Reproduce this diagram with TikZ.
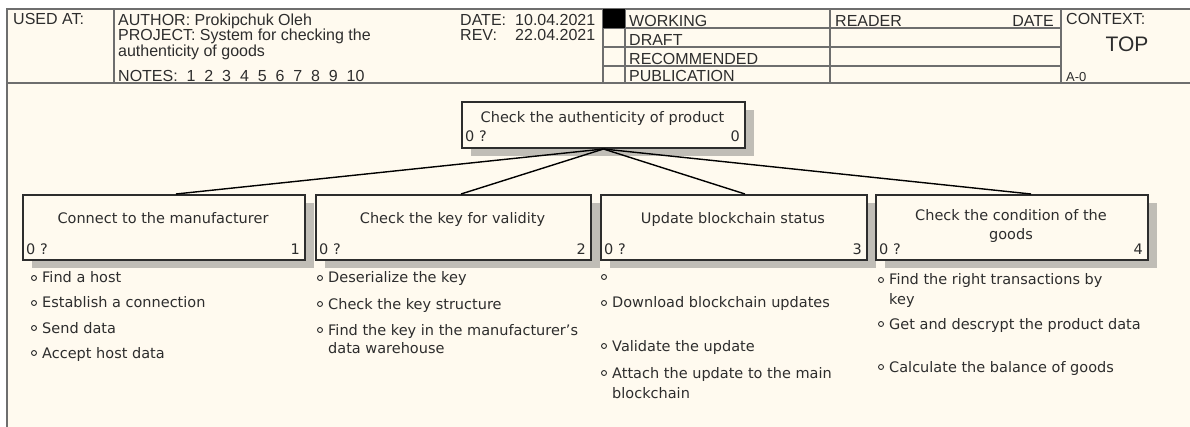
\documentclass[tikz,border=0pt]{standalone}
\usepackage{fontspec}
\setmainfont{DejaVu Sans}
\newfontfamily\hdrfont{Liberation Sans}
\usetikzlibrary{shadows}
\definecolor{paper}{RGB}{255,250,239}
\definecolor{rule}{RGB}{110,110,110}
\definecolor{shade}{RGB}{192,189,182}
\definecolor{ink}{RGB}{45,45,45}

\begin{document}
\begin{tikzpicture}[x=1pt,y=-1pt,
  hdr/.style={font=\hdrfont\fontsize{16}{17}\selectfont,inner sep=0pt,anchor=base west,text=ink},
  btxt/.style={font=\fontsize{14.5}{17}\selectfont,inner sep=0pt,text=ink},
  item/.style={btxt,anchor=base west},
  actbox/.style={draw=ink,line width=2pt,fill=paper,anchor=north west,
    drop shadow={shadow xshift=9pt,shadow yshift=-8pt,fill=shade,opacity=1}},
  dot/.style={draw=ink,line width=0.9pt,circle,inner sep=0pt,minimum size=5pt},
  frm/.style={draw=rule,line width=1.5pt}]
\useasboundingbox (0,0) rectangle (1190,427);
\fill[paper] (7,9) rectangle (1190,427);
% header
\draw[frm] (1190,9) -- (7,9) -- (7,427);
\draw[frm] (7,83) -- (1190,83);
\draw[frm] (114,9) -- (114,83) (603,9) -- (603,83) (625,9) -- (625,83)
  (830,9) -- (830,83) (1061,9) -- (1061,83);
\foreach \y in {28,47,66} \draw[frm] (603,\y) -- (1061,\y);
\fill[black] (603,9) rectangle (625,28);
\node[hdr] (usedat) at (13,25) {USED AT:};
\node[hdr] (author) at (118,26) {AUTHOR: Prokipchuk Oleh};
\node[hdr] (project) at (118,41) {PROJECT: System for checking the};
\node[hdr] (project2) at (118,57) {authenticity of goods};
\node[hdr] (notes) at (118,82) {NOTES:~~1~~2~~3~~4~~5~~6~~7~~8~~9~~10};
\node[hdr] (date) at (460,26) {DATE:};
\node[hdr] (dateval) at (515,26) {10.04.2021};
\node[hdr] (rev) at (460,41) {REV:};
\node[hdr] (revval) at (515,41) {22.04.2021};
\node[hdr] (working) at (629,27) {WORKING};
\node[hdr] (draft) at (629,46) {DRAFT};
\node[hdr] (recom) at (629,65) {RECOMMENDED};
\node[hdr] (public) at (629,82) {PUBLICATION};
\node[hdr] (reader) at (835,27) {READER};
\node[hdr,anchor=base east] (rdate) at (1054,27) {DATE};
\node[hdr] (context) at (1066,25) {CONTEXT:};
\node[hdr,anchor=base,font=\hdrfont\fontsize{21}{22}\selectfont] (ctop) at (1127,52) {TOP};
\node[hdr,font=\hdrfont\fontsize{13}{14}\selectfont] (nodenum) at (1066,82) {A-0};
% parent box
\node[actbox,minimum width=283pt,minimum height=46pt] (top) at (461,101) {};
\node[btxt,anchor=base] (toptitle) at (602.5,123) {Check the authenticity of product};
\node[btxt,anchor=base west] (topcost) at (465,142) {0 ?};
\node[btxt,anchor=base east] (topnum) at (740,142) {0};
% child boxes
\foreach \n/\l/\r in {1/22/304,2/315/590,3/600/866,4/875/1147} {
  \node[actbox,minimum width={\r-\l},minimum height=65pt] (box\n) at (\l,194) {};
  \node[btxt,anchor=base west] (cost\n) at (\l+4,255) {0 ?};
  \node[btxt,anchor=base east] (num\n) at (\r-4,255) {\n};
}
\node[btxt,anchor=base] (title1) at (163,224) {Connect to the manufacturer};
\node[btxt,anchor=base] (title2) at (452.5,224) {Check the key for validity};
\node[btxt,anchor=base] (title3) at (733,224) {Update blockchain status};
\node[btxt,anchor=base] (title4) at (1011,221) {Check the condition of the};
\node[btxt,anchor=base] (title4b) at (1011,240) {goods};
\foreach \n/\dx in {1/12,2/7.5,3/11,4/19}
  \draw[line width=1.4pt] (top.south) -- ([xshift=\dx pt]box\n.north);
% activity lists
\foreach \x/\y/\t [count=\i] in {42/283/Find a host,42/308/Establish a connection,
    42/333/Send data,42/358/Accept host data,
    328/283/Deserialize the key,328/309/Check the key structure,
    328/335/Find the key in the manufacturer's,
    612/308/Download blockchain updates,612/351/Validate the update,
    612/378/Attach the update to the main,
    889/285/Find the right transactions by,889/329/Get and descrypt the product data,
    889/372/Calculate the balance of goods} {
  \node[item] (item\i) at (\x,\y) {\t};
  \node[dot] (dot\i) at (\x-8,\y-5) {};
}
\node[dot] (dot0) at (604,277) {};
\node[item] (cont2) at (328,353) {data warehouse};
\node[item] (cont3) at (612,398) {blockchain};
\node[item] (cont4) at (889,305) {key};
\end{tikzpicture}
\end{document}
